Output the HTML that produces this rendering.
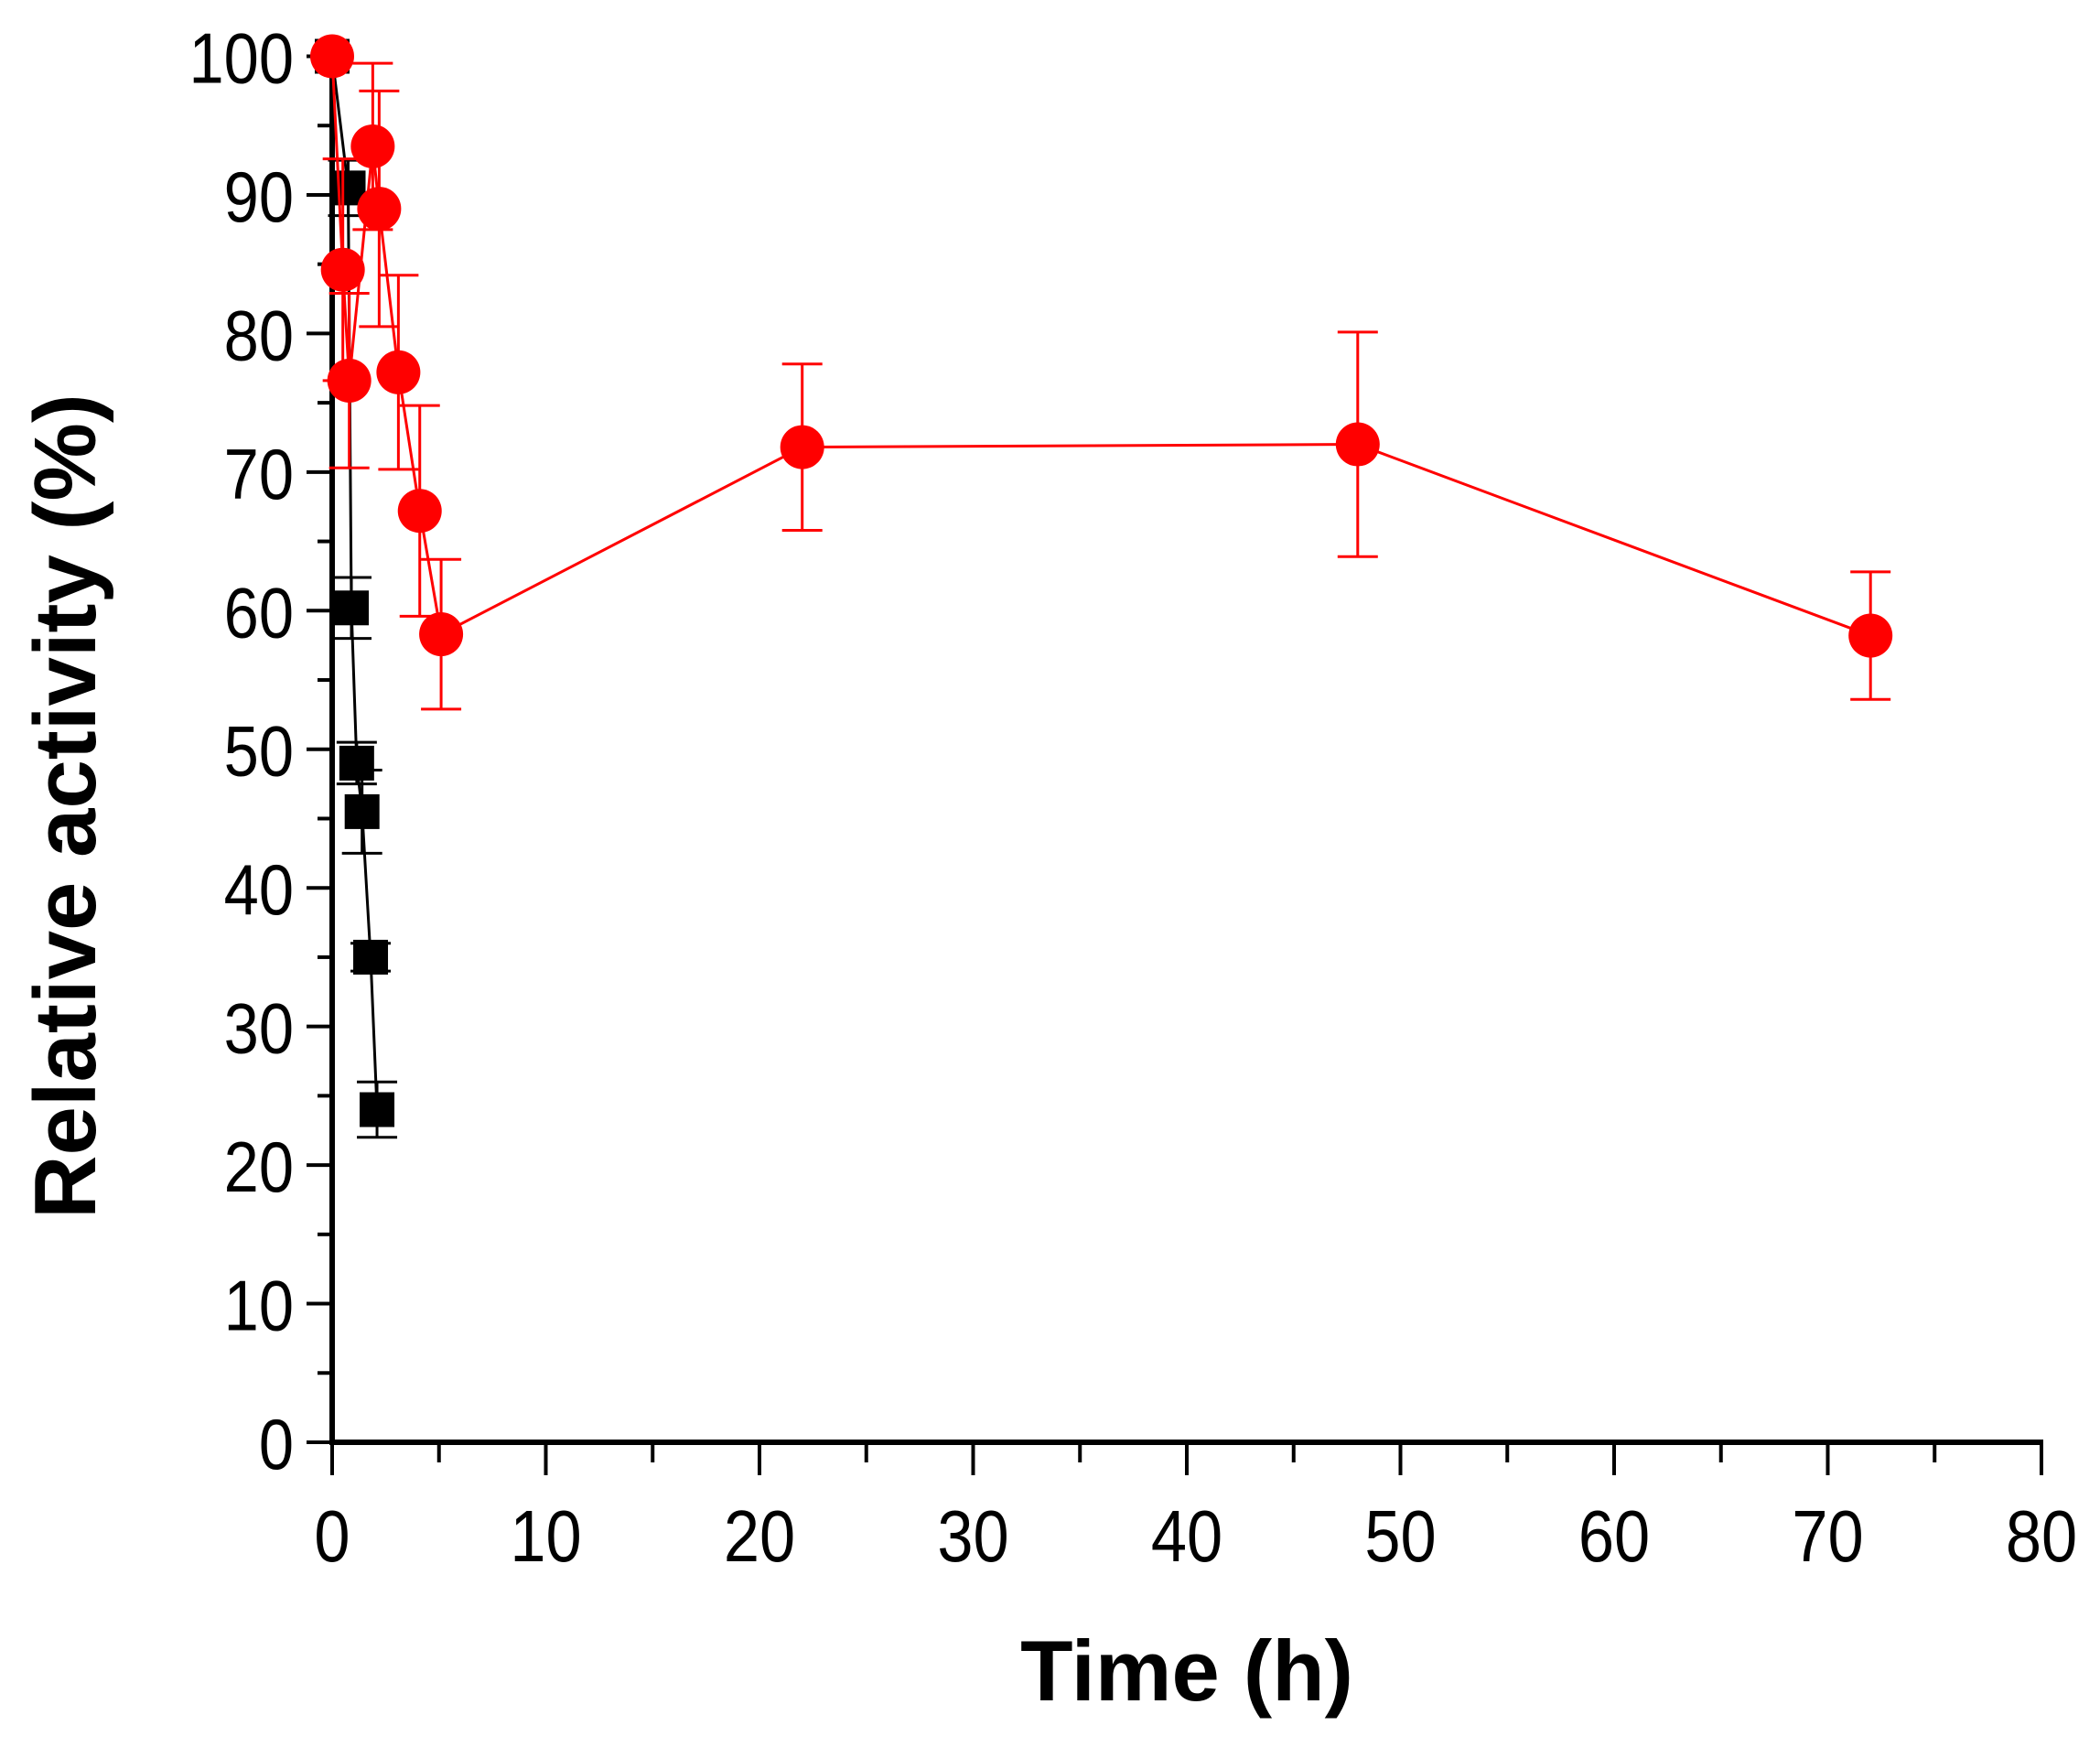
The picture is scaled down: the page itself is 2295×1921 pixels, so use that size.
<!DOCTYPE html>
<html><head><meta charset="utf-8"><style>
html,body{margin:0;padding:0;background:#fff;}
svg{display:block;}
text{font-family:"Liberation Sans",Arial,sans-serif;}
</style></head><body>
<svg id="chart" width="2295" height="1921" viewBox="0 0 2295 1921">
<g id="axes"></g>
<g id="series"></g>
<text x="1297" y="1858" text-anchor="middle" font-size="94" font-weight="bold">Time (h)</text>
<text transform="translate(104,881) rotate(-90)" text-anchor="middle" font-size="96" font-weight="bold">Relative activity (%)</text>
</svg>
<script>
const xTicks=[0,10,20,30,40,50,60,70,80];
const yTicks=[0,10,20,30,40,50,60,70,80,90,100];
const blackX=[0,0.75,0.9,1.15,1.4,1.8,2.1];
const blackY=[100,90.5,60.2,49,45.5,35,24];
const blackErr=[0,2,2.2,1.5,3,1,2];
const redX=[0,0.5,0.8,1.9,2.2,3.1,4.1,5.1,22,48,72];
const redY=[100,84.6,76.6,93.5,89,77.2,67.2,58.3,71.8,72,58.2];
const redErr=[0,8,6.3,6,8.5,7,7.6,5.4,6,8.1,4.6];
const X0=363,X1=2231,Y0=1576,Y1=61.5;
const sx=v=>X0+(X1-X0)*v/80;
const sy=v=>Y0-(Y0-Y1)*v/100;
const NS="http://www.w3.org/2000/svg";
function mk(tag,attrs,parent){const e=document.createElementNS(NS,tag);for(const k in attrs)e.setAttribute(k,attrs[k]);parent.appendChild(e);return e;}
const axes=document.getElementById('axes');
const series=document.getElementById('series');
let e;
e=mk('line',{x1:X0,y1:Y1-3,x2:X0,y2:Y0+3,stroke:'#000','stroke-width':6},axes);


e=mk('line',{x1:X0-3,y1:Y0,x2:X1+2,y2:Y0,stroke:'#000','stroke-width':6},axes);


for(let v=0;v<=80;v+=5){
  const maj=v%10===0;
  e=mk('line',{x1:sx(v),y1:Y0,x2:sx(v),y2:Y0+(maj?36:22),stroke:'#000','stroke-width':4},axes);
  
  
}
xTicks.forEach(v=>{
  e=mk('text',{x:sx(v),y:1706,'text-anchor':'middle','font-size':80,transform:`translate(${sx(v)},0) scale(0.88,1) translate(${-sx(v)},0)`},axes);e.textContent=v;
  
  
});
for(let v=0;v<=100;v+=5){
  const maj=v%10===0;
  e=mk('line',{x1:X0,y1:sy(v),x2:X0-(maj?28:16),y2:sy(v),stroke:'#000','stroke-width':4},axes);
  
  
}
yTicks.forEach(v=>{
  const rx=X0-42;
  e=mk('text',{x:rx,y:sy(v)+29,'text-anchor':'end','font-size':78,transform:`translate(${rx},0) scale(0.88,1) translate(${-rx},0)`},axes);e.textContent=v;
  
  
});
function drawSeries(xs,ys,errs,color,shape,name){
  const g=mk('g',{},series);
  
  
  const pts=xs.map((x,i)=>sx(x)+','+sy(ys[i])).join(' ');
  e=mk('polyline',{points:pts,fill:'none',stroke:color,'stroke-width':3},g);
  
  
  xs.forEach((x,i)=>{
    const cx=sx(x),err=errs[i];
    if(err>0){
      const t=sy(ys[i]+err),b=sy(ys[i]-err);
      e=mk('path',{d:`M${cx},${t}V${b}M${cx-22},${t}H${cx+22}M${cx-22},${b}H${cx+22}`,stroke:color,'stroke-width':3,fill:'none'},g);
      
      
    }
  });
  xs.forEach((x,i)=>{
    const cx=sx(x),cy=sy(ys[i]);
    if(shape==='circle'){
      e=mk('circle',{cx:cx,cy:cy,r:24,fill:color},g);
    }else{
      e=mk('rect',{x:cx-19,y:cy-19,width:38,height:38,fill:color},g);
    }
    
    
  });
}
drawSeries(blackX,blackY,blackErr,'#000','square','black');
drawSeries(redX,redY,redErr,'#ff0000','circle','red');
</script>
</body></html>
